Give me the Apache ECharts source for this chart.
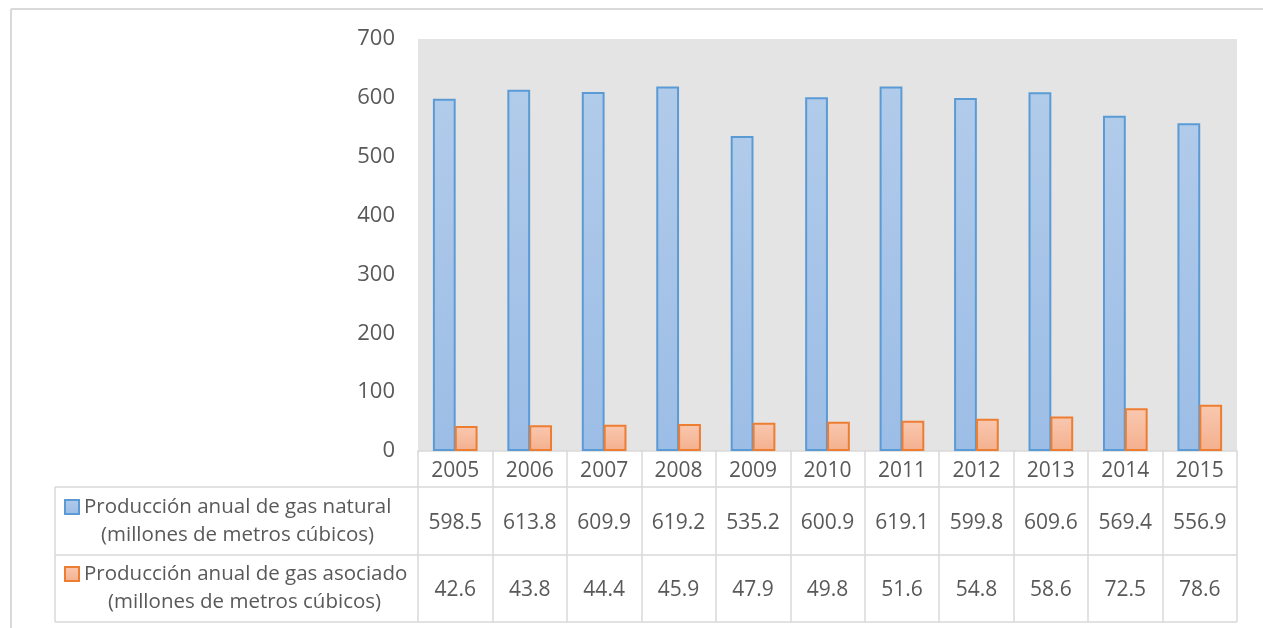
<!DOCTYPE html>
<html>
<head>
<meta charset="utf-8">
<script src="https://cdn.jsdelivr.net/npm/echarts@6/dist/echarts.min.js"></script>
<style>
  html, body { margin: 0; padding: 0; background: #fff; }
  #chart { width: 1263px; height: 628px; }
</style>
</head>
<body>
<div id="chart"></div>
<script>
// datos
const years = ['2005', '2006', '2007', '2008', '2009', '2010', '2011', '2012', '2013', '2014', '2015']
const gasNatural = [598.5, 613.8, 609.9, 619.2, 535.2, 600.9, 619.1, 599.8, 609.6, 569.4, 556.9]
const gasAsociado = [42.6, 43.8, 44.4, 45.9, 47.9, 49.8, 51.6, 54.8, 58.6, 72.5, 78.6]
const nameNatural = 'Producción anual de gas natural\n(millones de metros cúbicos)'
const nameAsociado = 'Producción anual de gas asociado\n(millones de metros cúbicos)'

const FONT = '"Open Sans", "Noto Sans", sans-serif'
const TXT = '#595959'
const LINE = '#d9d9d9'
const FS = 21
const FS_LEG = 20.5

const chart = echarts.init(document.getElementById('chart'))

// filas de la tabla (ejes extra sin línea)
const tableAxis = (vals, offset) => ({
  type: 'category',
  data: vals.map((v) => v.toFixed(1)),
  position: 'bottom',
  offset: offset,
  axisLine: { show: false },
  axisTick: { show: false },
  axisLabel: { color: TXT, fontSize: FS, fontFamily: FONT, margin: 0, lineHeight: 20 },
})

// leyenda: una por fila, el cuadro alineado con la primera línea
const legendRow = (name, top, indent) => ({
  orient: 'vertical',
  left: 64,
  top: top,
  padding: 0,
  icon: 'rect',
  itemWidth: 14,
  itemHeight: 14,
  selectedMode: false,
  data: [name],
  formatter: (n) => {
    const parts = n.split('\n')
    return '{c| }\n{a|' + parts[0] + '}\n{b|' + parts[1] + '}'
  },
  textStyle: {
    color: TXT,
    fontFamily: FONT,
    fontSize: FS_LEG,
    lineHeight: 28,
    rich: {
      a: { fontSize: FS_LEG, fontFamily: FONT, color: TXT, lineHeight: 28 },
      b: { fontSize: FS_LEG, fontFamily: FONT, color: TXT, lineHeight: 28, padding: [0, 0, 0, indent] },
      c: { fontSize: FS_LEG, lineHeight: 28 },
    },
  },
})

const option = {
  animation: false,
  grid: { left: 418, right: 26, top: 39, bottom: 177, show: true, backgroundColor: '#e4e4e4', borderWidth: 0 },
  legend: [legendRow(nameNatural, 465, 17), legendRow(nameAsociado, 532, 24)],
  xAxis: [
    {
      type: 'category',
      data: years,
      axisLine: { show: true, lineStyle: { color: LINE, width: 1.5 } },
      axisTick: { show: true, length: 171, lineStyle: { color: LINE, width: 1.5 } },
      axisLabel: { color: TXT, fontSize: FS, fontFamily: FONT, margin: 10, lineHeight: 20 },
    },
    tableAxis(gasNatural, 62),
    tableAxis(gasAsociado, 129),
  ],
  yAxis: {
    type: 'value',
    min: 0,
    max: 700,
    interval: 100,
    axisLine: { show: false },
    axisTick: { show: false },
    splitLine: { show: false },
    axisLabel: { color: TXT, fontSize: 22, fontFamily: FONT, margin: 23 },
  },
  series: [
    {
      name: nameNatural,
      type: 'bar',
      data: gasNatural,
      barCategoryGap: '40%',
      barGap: '-4%',
      itemStyle: {
        color: new echarts.graphic.LinearGradient(0, 0, 0, 1, [
          { offset: 0, color: '#b1cbea' },
          { offset: 1, color: '#9cbde6' },
        ]),
        borderColor: '#5b9bd5',
        borderWidth: 2,
      },
    },
    {
      name: nameAsociado,
      type: 'bar',
      data: gasAsociado,
      itemStyle: {
        color: new echarts.graphic.LinearGradient(0, 0, 0, 1, [
          { offset: 0, color: '#f9c8b0' },
          { offset: 1, color: '#f4b08e' },
        ]),
        borderColor: '#ed7d31',
        borderWidth: 2,
      },
    },
  ],
  graphic: [
    // borde del gráfico
    { type: 'line', shape: { x1: 11, y1: 9, x2: 1263, y2: 9 }, style: { stroke: LINE, lineWidth: 2 } },
    { type: 'line', shape: { x1: 11, y1: 9, x2: 11, y2: 628 }, style: { stroke: LINE, lineWidth: 2 } },
    // líneas de la tabla
    { type: 'line', shape: { x1: 55, y1: 487, x2: 1237, y2: 487 }, style: { stroke: LINE, lineWidth: 1.5 } },
    { type: 'line', shape: { x1: 55, y1: 555, x2: 1237, y2: 555 }, style: { stroke: LINE, lineWidth: 1.5 } },
    { type: 'line', shape: { x1: 55, y1: 622, x2: 1237, y2: 622 }, style: { stroke: LINE, lineWidth: 1.5 } },
    { type: 'line', shape: { x1: 55, y1: 487, x2: 55, y2: 622 }, style: { stroke: LINE, lineWidth: 1.5 } },
  ],
}

chart.setOption(option)
</script>
</body>
</html>
